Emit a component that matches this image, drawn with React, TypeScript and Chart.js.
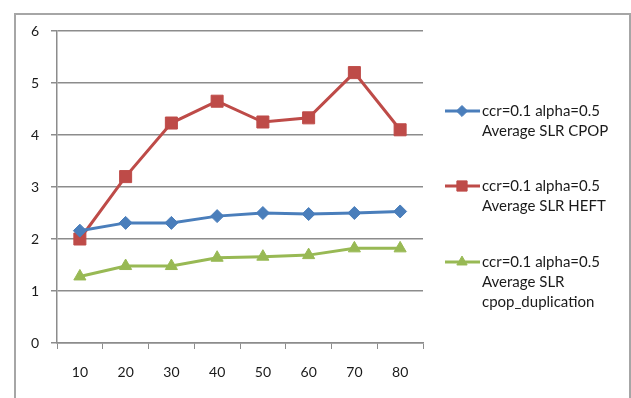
import React, { useEffect, useRef } from "react";
import { Chart, registerables } from "chart.js";
import { drawPoint } from "chart.js/helpers";

Chart.register(...registerables);

const categories = ["10", "20", "30", "40", "50", "60", "70", "80"];
const cpopValues = [2.16, 2.31, 2.31, 2.44, 2.5, 2.48, 2.5, 2.53];
const heftValues = [2.0, 3.2, 4.23, 4.65, 4.25, 4.33, 5.2, 4.1];
const dupValues = [1.28, 1.48, 1.48, 1.64, 1.66, 1.69, 1.82, 1.82];
const seriesLabels = [
  ["ccr=0.1 alpha=0.5", "Average SLR CPOP"],
  ["ccr=0.1 alpha=0.5", "Average SLR HEFT"],
  ["ccr=0.1 alpha=0.5", "Average SLR", "cpop_duplication"],
];
const colors = ["#4A7EBB", "#BE4B48", "#98B954"];
const markers = ["rectRot", "rect", "triangle"];
const markerRadius = [6.5, 8.5, 7];
const FONT = "Lato, 'Open Sans', sans-serif";

const legendPlugin = {
  id: "sideLegend",
  afterDraw(chart: any) {
    const ctx = chart.ctx;
    const startYs = [111, 186, 262];
    chart.data.datasets.forEach((ds: any, i: number) => {
      const y = startYs[i];
      ctx.save();
      ctx.strokeStyle = ds.borderColor;
      ctx.lineWidth = 3;
      ctx.beginPath();
      ctx.moveTo(445, y);
      ctx.lineTo(480, y);
      ctx.stroke();
      ctx.fillStyle = ds.backgroundColor;
      ctx.strokeStyle = ds.borderColor;
      ctx.lineWidth = 1;
      drawPoint(ctx, { pointStyle: ds.pointStyle, radius: markerRadius[i] * 0.85, borderWidth: 1, rotation: 0 } as any, 462, y);
      ctx.fillStyle = "#1a1a1a";
      ctx.font = `15px ${FONT}`;
      ctx.textBaseline = "middle";
      ctx.textAlign = "left";
      seriesLabels[i].forEach((t, k) => ctx.fillText(t, 482, y + k * 20));
      ctx.restore();
    });
  },
};

export default function App() {
  const ref = useRef<HTMLCanvasElement>(null);
  useEffect(() => {
    if (!ref.current) return;
    const mk = (i: number, data: number[]) => ({
      label: seriesLabels[i].join(" "),
      data,
      borderColor: colors[i],
      backgroundColor: colors[i],
      pointStyle: markers[i],
      pointRadius: markerRadius[i],
      pointBorderWidth: 1,
      borderWidth: 3,
      tension: 0,
    });
    const chart = new Chart(ref.current, {
      type: "line",
      data: {
        labels: categories,
        datasets: [mk(0, cpopValues), mk(1, heftValues), mk(2, dupValues)],
      },
      options: {
        animation: false,
        responsive: false,
        maintainAspectRatio: false,
        layout: { padding: { left: 0, top: 31, right: 208, bottom: 0 } },
        plugins: { legend: { display: false }, tooltip: { enabled: false } },
        scales: {
          x: {
            offset: true,
            grid: {
              offset: true,
              drawOnChartArea: false,
              drawTicks: true,
              tickLength: 6,
              color: "#8c8c8c",
            },
            border: { color: "#8c8c8c", width: 1.5 },
            ticks: { color: "#1a1a1a", font: { family: FONT, size: 14 }, padding: 15 },
            afterFit: (s: any) => {
              s.height = 55;
            },
          },
          y: {
            min: 0,
            max: 6,
            ticks: { stepSize: 1, color: "#1a1a1a", font: { family: FONT, size: 14 }, padding: 12 },
            grid: { color: "#8c8c8c", tickLength: 6, lineWidth: 1.5 },
            border: { color: "#8c8c8c", width: 1.5 },
            afterFit: (s: any) => {
              s.width = 57;
            },
          },
        },
      },
      plugins: [legendPlugin],
    } as any);
    return () => chart.destroy();
  }, []);
  return (
    <div style={{ position: "fixed", left: 0, top: 0, width: 631, height: 398, background: "#fff", overflow: "hidden" }}>
      <div
        style={{
          position: "absolute",
          left: 14,
          top: 13,
          width: 613,
          height: 400,
          border: "2px solid #a6a6a6",
        }}
      />
      <canvas ref={ref} width={631} height={398} style={{ position: "absolute", left: 0, top: 0 }} />
    </div>
  );
}
